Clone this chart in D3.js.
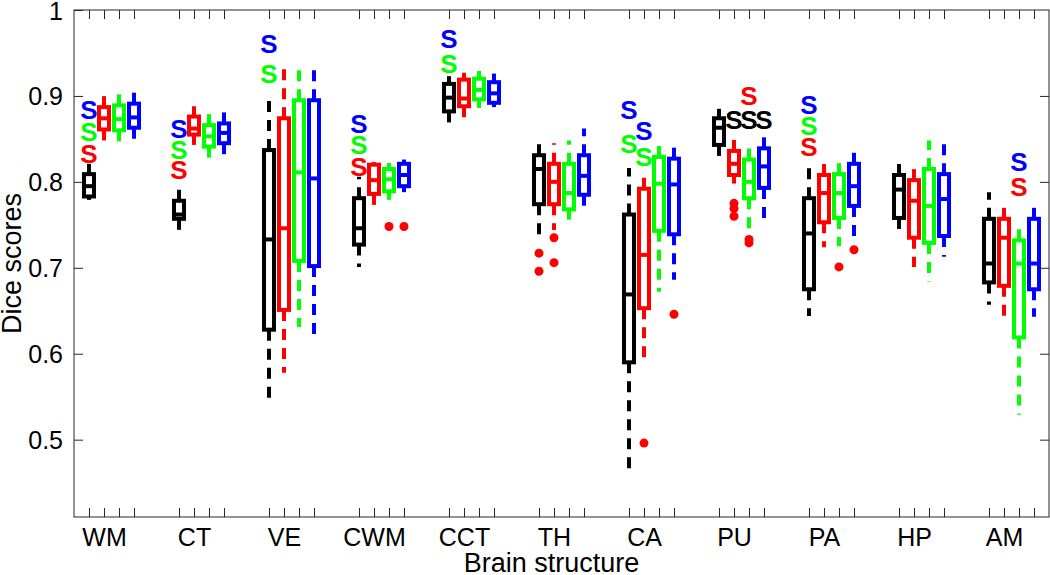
<!DOCTYPE html>
<html>
<head>
<meta charset="utf-8">
<script src="https://cdn.jsdelivr.net/npm/d3@7"></script>
<style>
  html, body { margin: 0; padding: 0; background: #fff; }
  svg { display: block; font-family: "Liberation Sans", Arial, Helvetica, sans-serif; }
</style>
</head>
<body>
<svg id="chart" width="1050" height="575"></svg>
<script>
// ---------- data ----------
const categories = ["WM", "CT", "VE", "CWM", "CCT", "TH", "CA", "PU", "PA", "HP", "AM"];
const methodColors = ["#000000", "#ff0000", "#00ff00", "#0000ff"];
const yTicks = [0.5, 0.6, 0.7, 0.8, 0.9, 1];
const yTickLabels = ["0.5", "0.6", "0.7", "0.8", "0.9", "1"];

// [lower whisker, q1, median, q3, upper whisker] per category
const blackStats = [
  [0.779, 0.783, 0.795, 0.809, 0.821],
  [0.737, 0.757, 0.762, 0.778, 0.794],
  [0.543, 0.628, 0.733, 0.837, 0.901],
  [0.701, 0.727, 0.746, 0.781, 0.806],
  [0.865, 0.882, 0.898, 0.914, 0.923],
  [0.736, 0.774, 0.815, 0.831, 0.851],
  [0.463, 0.590, 0.669, 0.762, 0.816],
  [0.826, 0.843, 0.863, 0.874, 0.885],
  [0.644, 0.675, 0.740, 0.781, 0.821],
  [0.737, 0.758, 0.791, 0.808, 0.825],
  [0.657, 0.683, 0.705, 0.757, 0.788]
];
const redStats = [
  [0.847, 0.861, 0.874, 0.887, 0.903],
  [0.843, 0.855, 0.862, 0.876, 0.888],
  [0.578, 0.651, 0.746, 0.874, 0.938],
  [0.773, 0.786, 0.802, 0.820, 0.823],
  [0.874, 0.888, 0.897, 0.919, 0.927],
  [0.744, 0.774, 0.800, 0.821, 0.845],
  [0.587, 0.653, 0.715, 0.792, 0.812],
  [0.798, 0.808, 0.821, 0.836, 0.850],
  [0.724, 0.753, 0.787, 0.808, 0.826],
  [0.701, 0.735, 0.778, 0.802, 0.824],
  [0.643, 0.679, 0.735, 0.757, 0.774]
];
const greenStats = [
  [0.843, 0.860, 0.873, 0.889, 0.905],
  [0.821, 0.841, 0.853, 0.866, 0.880],
  [0.631, 0.708, 0.811, 0.895, 0.930],
  [0.779, 0.789, 0.803, 0.815, 0.822],
  [0.886, 0.896, 0.907, 0.920, 0.929],
  [0.756, 0.768, 0.787, 0.821, 0.848],
  [0.672, 0.743, 0.798, 0.829, 0.845],
  [0.742, 0.781, 0.800, 0.826, 0.843],
  [0.725, 0.758, 0.787, 0.809, 0.827],
  [0.684, 0.729, 0.772, 0.815, 0.848],
  [0.529, 0.619, 0.705, 0.732, 0.754]
];
const blueStats = [
  [0.843, 0.863, 0.875, 0.891, 0.907],
  [0.829, 0.845, 0.857, 0.868, 0.888],
  [0.614, 0.702, 0.804, 0.895, 0.930],
  [0.788, 0.795, 0.808, 0.821, 0.826],
  [0.887, 0.892, 0.903, 0.916, 0.926],
  [0.767, 0.785, 0.807, 0.831, 0.862],
  [0.686, 0.739, 0.797, 0.827, 0.841],
  [0.756, 0.793, 0.818, 0.839, 0.853],
  [0.736, 0.772, 0.795, 0.821, 0.836],
  [0.713, 0.737, 0.780, 0.809, 0.845],
  [0.643, 0.675, 0.705, 0.757, 0.775]
];
// outliers: [category index, method index, value]
const outliers = [
  [3, 2, 0.748], [3, 3, 0.748],
  [5, 0, 0.717], [5, 0, 0.696], [5, 1, 0.735], [5, 1, 0.706],
  [6, 1, 0.496], [6, 3, 0.646],
  [7, 1, 0.775], [7, 1, 0.769], [7, 1, 0.760], [7, 2, 0.733], [7, 2, 0.729],
  [8, 2, 0.701], [8, 3, 0.721]
];
// significance marks "S": [category index, method position, colour method index, value]
const sigMarks = [
  [0, 0, 1, 0.833], [0, 0, 2, 0.858], [0, 0, 3, 0.884],
  [1, 0, 1, 0.814], [1, 0, 2, 0.837], [1, 0, 3, 0.862],
  [2, 0, 2, 0.926], [2, 0, 3, 0.961],
  [3, 0, 1, 0.818], [3, 0, 2, 0.843], [3, 0, 3, 0.868],
  [4, 0, 2, 0.938], [4, 0, 3, 0.967],
  [6, 0, 2, 0.845], [6, 0, 3, 0.884], [6, 1, 2, 0.829], [6, 1, 3, 0.860],
  [7, 1, 0, 0.872], [7, 2, 0, 0.872], [7, 3, 0, 0.872], [7, 2, 1, 0.900],
  [8, 0, 1, 0.841], [8, 0, 2, 0.865], [8, 0, 3, 0.890],
  [10, 2, 1, 0.795], [10, 2, 3, 0.824]
];

// ---------- layout ----------
const svg = d3.select("#chart");
const L = 74, R = 1049, T = 10, B = 517;
const nM = 4, step = 6;
const x = d3.scaleLinear().domain([-1, categories.length * step - 2]).range([L, R]);
const y = d3.scaleLinear().domain([0.41, 1]).range([B, T]);
const pos = (c, m) => c * step + m;
const axisColor = "#262626";
const fontSize = 25;

const allStats = [blackStats, redStats, greenStats, blueStats];
const boxes = [];
allStats.forEach((arr, m) => arr.forEach((s, c) => boxes.push({ c, m, s })));
const positions = [];
categories.forEach((_, c) => { for (let m = 0; m < nM; m++) positions.push(pos(c, m)); });

// axes
const gx = svg.append("g").attr("transform", `translate(0,${B})`)
  .call(d3.axisBottom(x).tickValues(positions).tickSize(-9).tickSizeOuter(0).tickFormat(""));
const gxTop = svg.append("g").attr("transform", `translate(0,${T})`)
  .call(d3.axisTop(x).tickValues(positions).tickSize(-9).tickSizeOuter(0).tickFormat(""));
const gxLab = svg.append("g").attr("transform", `translate(0,${B})`)
  .call(d3.axisBottom(x).tickValues(categories.map((_, c) => pos(c, 1))).tickSize(0).tickPadding(11)
    .tickFormat((d, i) => categories[i]));
const gy = svg.append("g").attr("transform", `translate(${L},0)`)
  .call(d3.axisLeft(y).tickValues(yTicks).tickSize(-9).tickSizeOuter(0).tickPadding(11)
    .tickFormat((d, i) => yTickLabels[i]));
const gyR = svg.append("g").attr("transform", `translate(${R},0)`)
  .call(d3.axisRight(y).tickValues(yTicks.filter(v => v < 1)).tickSize(-9).tickSizeOuter(0).tickFormat(""));

[gx, gxTop, gxLab, gy, gyR].forEach(g => {
  g.select(".domain").remove();
  g.selectAll("line").attr("stroke", axisColor).attr("stroke-width", 1);
  g.selectAll("text").attr("fill", "#000").style("font-size", fontSize + "px")
    .style("font-family", '"Liberation Sans", Arial, sans-serif');
});
gy.selectAll("text").attr("dy", "0.36em");

svg.append("rect").attr("x", L).attr("y", T).attr("width", R - L).attr("height", B - T)
  .attr("fill", "none").attr("stroke", axisColor).attr("stroke-width", 1);

// axis titles
svg.append("text").attr("x", (L + R) / 2 - 10).attr("y", 572).attr("text-anchor", "middle")
  .style("font-size", "27px").text("Brain structure");
svg.append("text").attr("transform", `translate(21,${(T + B) / 2}) rotate(-90)`)
  .attr("text-anchor", "middle").style("font-size", "27px").text("Dice scores");

// boxes
const hw = 5, lw = 4;
const gb = svg.append("g");
const bg = gb.selectAll("g.box").data(boxes).join("g").attr("class", "box");
bg.append("line").attr("x1", d => x(pos(d.c, d.m))).attr("x2", d => x(pos(d.c, d.m)))
  .attr("y1", d => y(d.s[3])).attr("y2", d => y(d.s[4]))
  .attr("stroke", d => methodColors[d.m]).attr("stroke-width", lw).attr("stroke-dasharray", "11,8");
bg.append("line").attr("x1", d => x(pos(d.c, d.m))).attr("x2", d => x(pos(d.c, d.m)))
  .attr("y1", d => y(d.s[1])).attr("y2", d => y(d.s[0]))
  .attr("stroke", d => methodColors[d.m]).attr("stroke-width", lw).attr("stroke-dasharray", "11,8");
bg.append("rect").attr("x", d => x(pos(d.c, d.m)) - hw).attr("width", 2 * hw)
  .attr("y", d => y(d.s[3])).attr("height", d => y(d.s[1]) - y(d.s[3]))
  .attr("fill", "none").attr("stroke", d => methodColors[d.m]).attr("stroke-width", lw);
bg.append("line").attr("x1", d => x(pos(d.c, d.m)) - hw).attr("x2", d => x(pos(d.c, d.m)) + hw)
  .attr("y1", d => y(d.s[2])).attr("y2", d => y(d.s[2]))
  .attr("stroke", d => methodColors[d.m]).attr("stroke-width", lw);

// outliers
svg.append("g").selectAll("circle").data(outliers).join("circle")
  .attr("cx", d => x(pos(d[0], d[1]))).attr("cy", d => y(d[2])).attr("r", 4.5)
  .attr("fill", "#ff0000");

// significance marks
svg.append("g").selectAll("text").data(sigMarks).join("text")
  .attr("x", d => x(pos(d[0], d[1]))).attr("y", d => y(d[3])).attr("dy", "0.36em")
  .attr("text-anchor", "middle").style("font-size", "26px").style("font-weight", "bold")
  .attr("fill", d => methodColors[d[2]]).text("S");
</script>
</body>
</html>
